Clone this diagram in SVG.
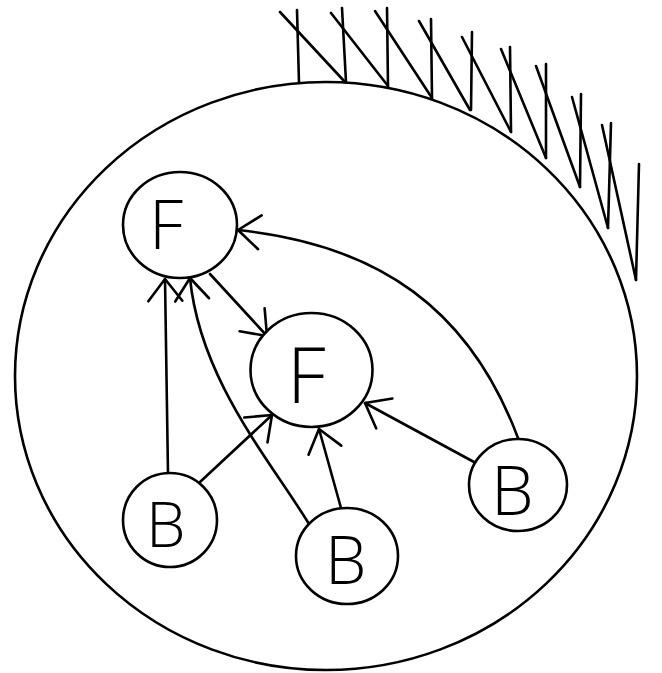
<svg xmlns="http://www.w3.org/2000/svg" width="662" height="673" viewBox="0 0 662 673">
<defs>
<style>
.ln{fill:none;stroke:#000;stroke-width:2.6;stroke-linecap:round;stroke-linejoin:round}
.nd{fill:#fff;stroke:#000;stroke-width:2.6}
.lb{font-family:"Open Sans","Liberation Sans",sans-serif;font-weight:300;fill:#000}
.ar{marker-end:url(#arr)}
</style>
<marker id="arr" markerUnits="userSpaceOnUse" viewBox="-30 -25 40 50" markerWidth="40" markerHeight="50" refX="0" refY="0" orient="auto">
<path d="M-22,-17 L0,0 L-22,17" fill="none" stroke="#000" stroke-width="2.6" stroke-linecap="round" stroke-linejoin="round"/>
</marker>
</defs>
<rect width="662" height="673" fill="#fff"/>
<g id="container">
<ellipse cx="326" cy="376" rx="311" ry="294" class="ln"/>
</g>
<g id="wall">
<path class="ln" d="M297,10 L299,83 M342,8 L346,82 M387,8 L388,86 M431,19 L432,98 M472,32 L471,110 M510,47 L511,132 M546,64 L546,158 M581,94 L580,187 M611,123 L608,228 M639,164 L636,280"/>
<path class="ln" d="M280,12 L345,82 M331,13 L388,86 M375,11 L432,98 M419,21 L470,110 M462,37 L511,132 M501,49 L546,158 M536,66 L580,187 M572,97 L608,228 M602,125 L636,280"/>
</g>
<g id="connectors">
<path class="ln ar" d="M168,474 L165,279"/>
<path class="ln ar" d="M309,524 C270,460 200,380 190,278"/>
<path class="ln ar" d="M210,274 L267,336"/>
<path class="ln ar" d="M200,482 L272,415"/>
<path class="ln ar" d="M341,508 L319,429"/>
<path class="ln ar" d="M474,462 L365,403"/>
<path class="ln ar" d="M518,438 C470,310 380,245 238,230"/>
</g>
<g id="F1">
<ellipse class="nd" cx="180" cy="225" rx="57" ry="53"/>
<text class="lb" x="149" y="249" font-size="68">F</text>
</g>
<g id="F2">
<ellipse class="nd" cx="311.5" cy="370" rx="61" ry="57"/>
<text class="lb" x="287" y="403" font-size="77">F</text>
</g>
<g id="B1">
<ellipse class="nd" cx="170" cy="520" rx="47" ry="47"/>
<text class="lb" x="146" y="547" font-size="63">B</text>
</g>
<g id="B2">
<ellipse class="nd" cx="347" cy="556" rx="51" ry="48"/>
<text class="lb" x="325" y="584" font-size="66">B</text>
</g>
<g id="B3">
<ellipse class="nd" cx="518" cy="485" rx="49" ry="46"/>
<text class="lb" x="491" y="515" font-size="68">B</text>
</g>
</svg>
